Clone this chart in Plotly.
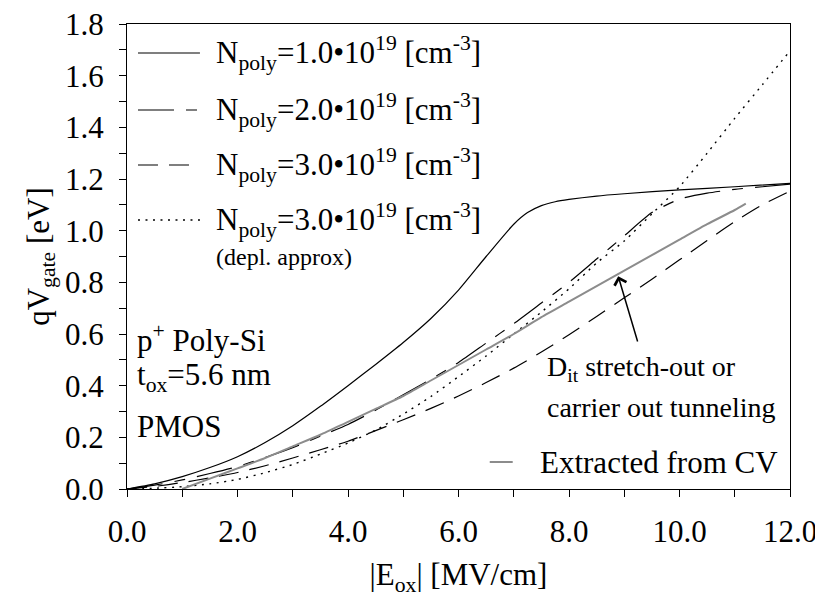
import plotly.graph_objects as go

# ---- data ----
x_n1 = [0, 0.5, 1, 1.5, 2, 2.5, 3, 3.5, 4, 4.5, 5, 5.5, 6, 6.5, 7, 7.25, 7.5, 7.75, 8, 8.5, 9, 10, 11, 12]
y_n1 = [0, 0.02, 0.048, 0.083, 0.125, 0.18, 0.245, 0.32, 0.4, 0.482, 0.567, 0.66, 0.77, 0.9, 1.025,
        1.07, 1.097, 1.112, 1.121, 1.134, 1.143, 1.158, 1.17, 1.183]

x_n2 = [0, 0.5, 1, 1.5, 2, 2.5, 3, 3.5, 4, 4.5, 5, 5.5, 6, 6.5, 7, 7.5, 8, 8.5, 9, 9.5, 10, 10.5, 11, 11.5, 12]
y_n2 = [0, 0.015, 0.035, 0.06, 0.087, 0.122, 0.16, 0.205, 0.25, 0.305, 0.365, 0.425, 0.49, 0.565, 0.64,
        0.72, 0.8, 0.89, 0.98, 1.07, 1.122, 1.145, 1.16, 1.17, 1.18]

x_n3 = [0, 0.5, 1, 1.5, 2, 2.5, 3, 3.5, 4, 4.5, 5, 5.5, 6, 6.5, 7, 7.5, 8, 8.5, 9, 9.5, 10, 10.5, 11, 11.5, 12]
y_n3 = [0, 0.01, 0.025, 0.043, 0.064, 0.09, 0.12, 0.152, 0.185, 0.226, 0.268, 0.312, 0.36, 0.412, 0.468,
        0.53, 0.597, 0.668, 0.74, 0.812, 0.887, 0.962, 1.035, 1.1, 1.153]

x_depl = [0, 0.5, 1, 1.5, 2, 2.5, 3, 3.5, 4, 4.5, 5, 5.5, 6, 6.5, 7, 7.5, 8, 8.5, 9, 9.5, 10, 10.5, 11, 11.5, 12]
y_depl = [0, 0.003, 0.009, 0.02, 0.037, 0.063, 0.095, 0.135, 0.178, 0.228, 0.29, 0.358, 0.435, 0.515, 0.6,
          0.685, 0.775, 0.875, 0.96, 1.065, 1.17, 1.3, 1.435, 1.565, 1.696]

x_cv = [1.0, 1.5, 2, 2.5, 3, 3.5, 4, 4.5, 5, 5.5, 6, 6.5, 7, 7.5, 8, 8.5, 9, 9.5, 10, 10.5, 11, 11.2]
y_cv = [0, 0.04, 0.08, 0.12, 0.165, 0.21, 0.26, 0.31, 0.36, 0.42, 0.48, 0.54, 0.60, 0.665, 0.725, 0.785,
        0.845, 0.905, 0.965, 1.025, 1.08, 1.105]

legend_labels = [
    "N<sub>poly</sub>=1.0•10<sup>19</sup> [cm<sup>-3</sup>]",
    "N<sub>poly</sub>=2.0•10<sup>19</sup> [cm<sup>-3</sup>]",
    "N<sub>poly</sub>=3.0•10<sup>19</sup> [cm<sup>-3</sup>]",
    "N<sub>poly</sub>=3.0•10<sup>19</sup> [cm<sup>-3</sup>]",
]
x_ticks = [0, 2, 4, 6, 8, 10, 12]
y_ticks = [0, 0.2, 0.4, 0.6, 0.8, 1.0, 1.2, 1.4, 1.6, 1.8]

FONT = "Liberation Serif, serif"
FS = 31
DASH_N2 = "36px,12px,11px,12px"
DASH_N3 = "20px,11px"
DASH_DEPL = "2px,5.5px"
GRAY = "#8c8c8c"

fig = go.Figure()
styles = [
    (x_n1, y_n1, dict(color="black", width=1.2, dash="solid")),
    (x_n2, y_n2, dict(color="black", width=1.2, dash=DASH_N2)),
    (x_n3, y_n3, dict(color="black", width=1.2, dash=DASH_N3)),
    (x_depl, y_depl, dict(color="black", width=1.4, dash=DASH_DEPL)),
]
for (xs, ys, ln), name in zip(styles, legend_labels):
    fig.add_trace(go.Scatter(x=xs, y=ys, mode="lines", line=dict(shape="spline", smoothing=0.6, **ln),
                             name=name, showlegend=False))
fig.add_trace(go.Scatter(x=x_cv, y=y_cv, mode="lines", name="Extracted from CV", showlegend=False,
                         line=dict(color=GRAY, width=2, shape="spline", smoothing=0.6)))

# ---- helpers: screen pixel -> paper coords (plot area 127..790 x 24..489) ----
H = 465.0
W = 663.5
def px_x(p):
    return (p - 127) / W
def px_y(p):
    return (489 - p) / H

# ---- manual legend (top left) ----
rows = [53, 110, 165, 220]
dashes = ["solid", DASH_N2, DASH_N3, DASH_DEPL]
for r, d, lab in zip(rows, dashes, legend_labels):
    fig.add_shape(type="line", xref="paper", yref="paper", x0=px_x(138), x1=px_x(200),
                  y0=px_y(r), y1=px_y(r),
                  line=dict(color="black", width=1.4 if d == DASH_DEPL else 1.2, dash=d))
    fig.add_annotation(xref="paper", yref="paper", x=px_x(214), y=px_y(r), text=lab, showarrow=False,
                       xanchor="left", yanchor="middle", font=dict(family=FONT, size=FS, color="black"))
fig.add_annotation(xref="paper", yref="paper", x=px_x(214), y=px_y(257), text="(depl. approx)",
                   showarrow=False, xanchor="left", yanchor="middle",
                   font=dict(family=FONT, size=24, color="black"))

# Extracted from CV legend
fig.add_shape(type="line", xref="paper", yref="paper", x0=px_x(490), x1=px_x(513),
              y0=px_y(462), y1=px_y(462), line=dict(color=GRAY, width=2))
fig.add_annotation(xref="paper", yref="paper", x=px_x(780), y=px_y(462), text="Extracted from CV",
                   showarrow=False, xanchor="right", yanchor="middle",
                   font=dict(family=FONT, size=FS, color="black"))

# Sample description
for ty, txt in [(338, "p<sup>+</sup> Poly-Si"), (377, "t<sub>ox</sub>=5.6 nm"), (426, "PMOS")]:
    fig.add_annotation(xref="paper", yref="paper", x=px_x(135), y=px_y(ty), text=txt, showarrow=False,
                       xanchor="left", yanchor="middle", font=dict(family=FONT, size=FS, color="black"))

# D_it annotation
fig.add_annotation(xref="paper", yref="paper", x=px_x(545), y=px_y(368), text="D<sub>it</sub> stretch-out or",
                   showarrow=False, xanchor="left", yanchor="middle", font=dict(family=FONT, size=28, color="black"))
fig.add_annotation(xref="paper", yref="paper", x=px_x(545), y=px_y(407), text="carrier out tunneling",
                   showarrow=False, xanchor="left", yanchor="middle", font=dict(family=FONT, size=28, color="black"))
fig.add_annotation(x=8.89, y=0.824, ax=9.25, ay=0.565, axref="x", ayref="y", xref="x", yref="y",
                   text="", showarrow=True, arrowhead=4, arrowsize=1.6, arrowwidth=1.5, arrowcolor="black")

axis_common = dict(
    showline=True, linecolor="black", linewidth=1, mirror=True,
    ticks="outside", ticklen=7, tickwidth=1, tickcolor="black",
    showgrid=False, zeroline=False, ticklabeloverflow="allow",
    tickfont=dict(family=FONT, size=FS, color="black"),
)
fig.update_xaxes(range=[0, 12], tickvals=x_ticks, ticktext=[f"{v:.1f}" for v in x_ticks],
                 ticklabelstandoff=8,
                 minor=dict(dtick=1, ticks="outside", ticklen=7, tickcolor="black", showgrid=False),
                 title=dict(text="|E<sub>ox</sub>| [MV/cm]", font=dict(family=FONT, size=FS, color="black"),
                            standoff=16),
                 **axis_common)
fig.update_yaxes(range=[0, 1.8], tickvals=y_ticks, ticktext=[f"{v:.1f}" for v in y_ticks],
                 ticklabelstandoff=9,
                 minor=dict(dtick=0.1, tick0=0, ticks="outside", ticklen=7, tickcolor="black", showgrid=False),
                 title=dict(text="qV<sub>gate</sub> [eV]", font=dict(family=FONT, size=FS, color="black"),
                            standoff=6),
                 **axis_common)

# the page body adds an 8px offset, so the figure is drawn 8px smaller
fig.update_layout(
    width=815, height=589,
    margin=dict(l=119, r=33, t=16, b=108, autoexpand=False),
    plot_bgcolor="white", paper_bgcolor="white",
    font=dict(family=FONT, size=FS, color="black"),
)
fig.write_html("out.html")
